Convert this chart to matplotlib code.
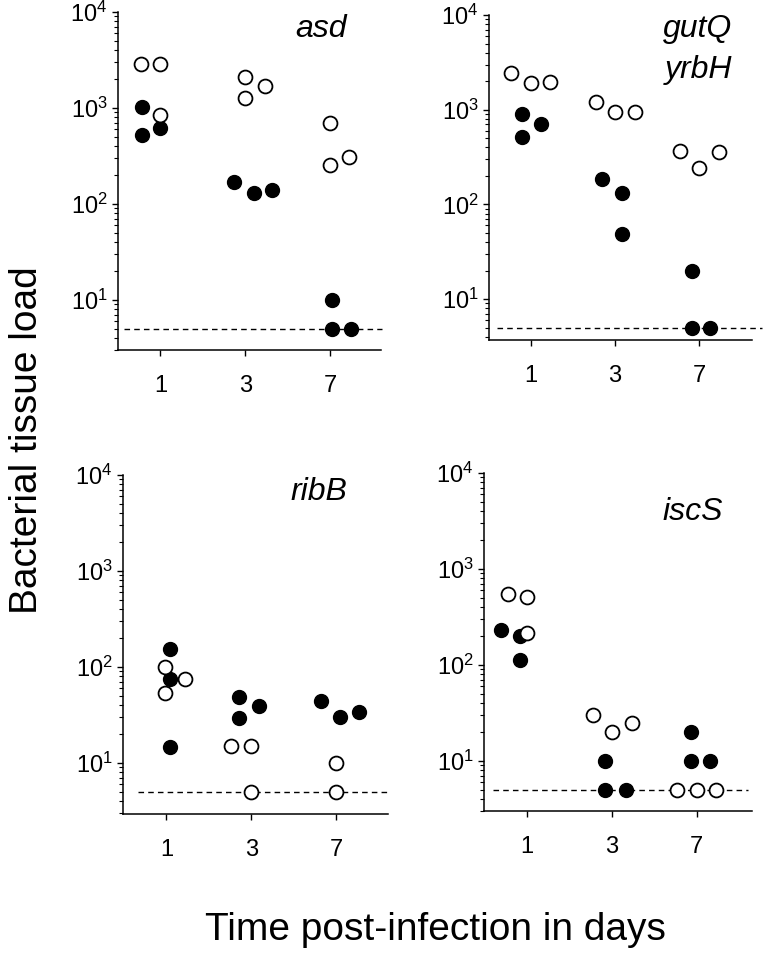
import matplotlib
matplotlib.use("Agg")
import matplotlib.pyplot as plt
import numpy as np
from matplotlib.ticker import LogLocator, NullFormatter

plt.rcParams['font.family'] = ['Liberation Sans', 'DejaVu Sans']
plt.rcParams['mathtext.fontset'] = 'custom'
plt.rcParams['mathtext.rm'] = 'Liberation Sans'
plt.rcParams['mathtext.it'] = 'Liberation Sans:italic'

# ---------------- data ----------------
days = ['1', '3', '7']
genes = ['asd', 'gutQ\nyrbH', 'ribB', 'iscS']
detection_limit = 5

# values per day (open = one strain, filled = other strain)
asd_open = [[2900, 2900, 850], [2090, 1270, 1700], [700, 257, 310]]
asd_open_dx = [[-0.23, 0, 0], [0, 0, 0.23], [0, 0, 0.22]]
asd_filled = [[1020, 528, 620], [170, 130, 141], [10, 5, 5]]
asd_filled_dx = [[-0.22, -0.22, 0], [-0.13, 0.1, 0.32], [0.02, 0.02, 0.25]]

gut_open = [[2450, 1930, 1980], [1200, 950, 950], [369, 244, 355]]
gut_open_dx = [[-0.24, 0, 0.23], [-0.23, 0, 0.24], [-0.23, 0, 0.24]]
gut_filled = [[890, 519, 700], [184, 133, 49], [20, 5, 5]]
gut_filled_dx = [[-0.11, -0.11, 0.12], [-0.15, 0.08, 0.08], [-0.09, -0.09, 0.13]]

rib_open = [[100, 54, 75], [15, 15, 5], [10, 5]]
rib_open_dx = [[-0.01, -0.01, 0.22], [-0.24, 0, 0], [0, 0]]
rib_filled = [[156, 74.5, 14.8], [49, 29.7, 39], [44, 30, 34]]
rib_filled_dx = [[0.04, 0.04, 0.04], [-0.14, -0.14, 0.09], [-0.18, 0.04, 0.27]]

isc_open = [[553, 511, 217], [30, 20, 25], [5, 5, 5]]
isc_open_dx = [[-0.23, 0, 0], [-0.23, 0, 0.23], [-0.24, 0, 0.23]]
isc_filled = [[230, 200, 112], [10, 5, 5], [20, 10, 10]]
isc_filled_dx = [[-0.31, -0.08, -0.08], [-0.08, -0.08, 0.16], [-0.07, -0.07, 0.16]]

open_sets = [(asd_open, asd_open_dx), (gut_open, gut_open_dx),
             (rib_open, rib_open_dx), (isc_open, isc_open_dx)]
filled_sets = [(asd_filled, asd_filled_dx), (gut_filled, gut_filled_dx),
               (rib_filled, rib_filled_dx), (isc_filled, isc_filled_dx)]

# ---------------- layout / style ----------------
W, H = 765, 959
fig = plt.figure(figsize=(W / 100, H / 100), dpi=100)

# axes boxes in pixels: left, right, top, bottom
boxes = [(118, 381, 12, 350), (489, 752, 15, 340),
         (123, 388, 475, 814), (484, 752, 473, 811)]
ybottoms = [3.0, 3.7, 2.95, 3.0]
xlims = [(0.5, 3.6), (0.5, 3.63), (0.49, 3.61), (0.49, 3.65)]
dash_x = [(0.565, 3.61), (0.6, 3.75), (0.67, 3.6), (0.6, 3.6)]
label_pos = [(0.871, 0.926), (0.924, 0.932), (0.845, 0.926), (0.892, 0.861)]

for i in range(4):
    l, r, t, b = boxes[i]
    ax = fig.add_axes([l / W, 1 - b / H, (r - l) / W, (b - t) / H])
    ax.set_yscale('log')
    ax.set_ylim(ybottoms[i], 1e4)
    ax.set_xlim(*xlims[i])

    x0 = np.arange(1, len(days) + 1)
    # dashed detection limit
    ax.plot(dash_x[i], [detection_limit, detection_limit], ls=(0, (4, 3)),
            color='black', lw=1.0, clip_on=False, zorder=1)

    fvals, fdx = filled_sets[i]
    ovals, odx = open_sets[i]
    for d in range(len(days)):
        ax.plot(x0[d] + np.array(fdx[d]), fvals[d], 'o', ms=10, mfc='black',
                mec='black', mew=1.0, ls='none', zorder=3, clip_on=False)
    for d in range(len(days)):
        ax.plot(x0[d] + np.array(odx[d]), ovals[d], 'o', ms=10, mfc='white',
                mec='black', mew=1.3, ls='none', zorder=4, clip_on=False)

    ax.set_xticks(x0)
    ax.set_xticklabels(days, fontsize=17)
    ax.yaxis.set_major_locator(LogLocator(base=10, numticks=10))
    ax.yaxis.set_minor_locator(LogLocator(base=10, subs=np.arange(2, 10), numticks=20))
    ax.yaxis.set_minor_formatter(NullFormatter())
    ax.tick_params(axis='y', which='major', length=4.5, width=1, labelsize=17, pad=3)
    ax.tick_params(axis='y', which='minor', length=3, width=0.8)
    ax.tick_params(axis='x', which='major', length=4.3, width=1, pad=14)
    ax.tick_params(axis='x', which='minor', length=0)
    for s in ['top', 'right']:
        ax.spines[s].set_visible(False)
    for s in ['left', 'bottom']:
        ax.spines[s].set_linewidth(1.1)

    lx, ly = label_pos[i]
    lines = genes[i].split('\n')
    for k, line in enumerate(lines):
        ax.text(lx, ly - k * 0.126, line, transform=ax.transAxes, ha='right',
                va='baseline', fontsize=23, style='italic')

fig.text(0.035, 0.541, 'Bacterial tissue load', rotation=90, ha='center',
         va='center', fontsize=28)
fig.text(0.569, 0.030, 'Time post-infection in days', ha='center',
         va='center', fontsize=28)

fig.savefig('out.png', dpi=100)
